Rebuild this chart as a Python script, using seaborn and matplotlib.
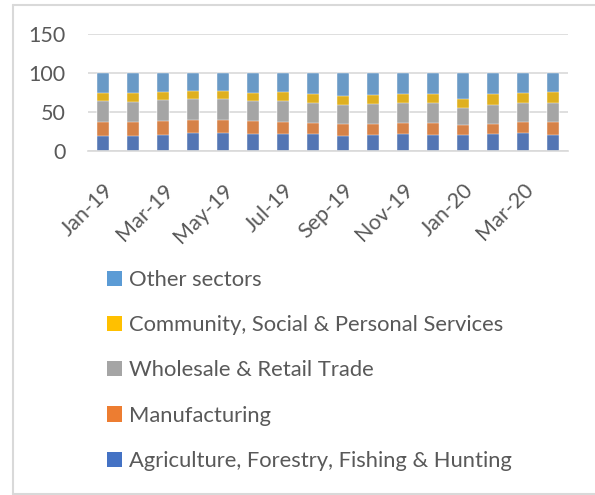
import numpy as np
import pandas as pd
import matplotlib
matplotlib.use("Agg")
import matplotlib.pyplot as plt
from matplotlib.lines import Line2D
from matplotlib.patches import Patch
import seaborn as sns

sns.set_style("white")
plt.rcParams['font.family'] = ['Lato', 'DejaVu Sans']

months = ["Jan-19", "Feb-19", "Mar-19", "Apr-19", "May-19", "Jun-19", "Jul-19", "Aug-19",
          "Sep-19", "Oct-19", "Nov-19", "Dec-19", "Jan-20", "Feb-20", "Mar-20", "Apr-20"]

agriculture = [19, 19, 20, 22, 22.5, 21.5, 21.5, 21, 19, 20, 21.5, 20, 19.5, 21.5, 22, 19.5]
manufacturing = [18, 18, 18, 17, 16.5, 16.5, 15.5, 14.5, 15.5, 14.5, 14, 15.5, 13, 13, 14, 16.5]
wholesale = [26.5, 25.5, 26.5, 26.5, 26.5, 25.5, 26, 25.5, 24, 25.5, 25, 25, 22, 24, 24.5, 24.5]
community = [10.5, 11.5, 11, 10.5, 10.5, 10, 12, 11.5, 11.5, 11.5, 12.5, 12, 11.5, 13.5, 13, 14.5]
other = [26, 26, 24.5, 24, 24, 26.5, 25, 27.5, 30, 28.5, 27, 27.5, 34, 28, 26.5, 25]

sectors = ["Agriculture, Forestry, Fishing & Hunting", "Manufacturing",
           "Wholesale & Retail Trade", "Community, Social & Personal Services",
           "Other sectors"]
colors = ["#4472C4", "#ED7D31", "#A5A5A5", "#FFC000", "#5B9BD5"]

df = pd.DataFrame({"month": months, sectors[0]: agriculture, sectors[1]: manufacturing,
                   sectors[2]: wholesale, sectors[3]: community, sectors[4]: other})

# cumulative totals, drawn from the tallest down so each layer sits on top
cum = df[sectors].cumsum(axis=1)

text_color = "#595959"
grid_color = "#D9D9D9"

fig = plt.figure(figsize=(5.95, 4.95), dpi=100)
ax = fig.add_axes([88 / 595, 1 - 150.5 / 495, 480 / 595, 117 / 495])

for sector, color in zip(sectors[::-1], colors[::-1]):
    sns.barplot(x=df["month"], y=cum[sector], color=color, width=0.4,
                edgecolor="white", linewidth=0.3, ax=ax, zorder=3)

ax.set_ylim(0, 150)
ax.set_xlim(-0.5, len(months) - 0.5)
ax.set_yticks([0, 50, 100, 150])
ax.yaxis.grid(True, color=grid_color, linewidth=1.2, zorder=0)
ax.set_xlabel("")
ax.set_ylabel("")
for s in ["left", "right", "top"]:
    ax.spines[s].set_visible(False)
ax.spines["bottom"].set_color(grid_color)
ax.spines["bottom"].set_linewidth(1.2)
ax.spines["bottom"].set_zorder(4)

# tick marks between category pairs, labels on every other month
ax.set_xticks(np.arange(-0.5, len(months), 2))
ax.set_xticklabels([])
ax.tick_params(axis="x", which="major", length=8, color=grid_color, width=1.2)
ax.set_xticks(np.arange(0, len(months), 2), minor=True)
ax.set_xticklabels(months[::2], minor=True, rotation=45, ha="right",
                   rotation_mode="anchor", fontsize=15.5, color=text_color)
ax.tick_params(axis="x", which="minor", length=0, pad=21)
ax.tick_params(axis="y", length=0, pad=16, labelsize=15.5, labelcolor=text_color)

handles = [Patch(facecolor=c, edgecolor="none") for c in colors[::-1]]
fig.legend(handles, sectors[::-1], loc="upper left", bbox_to_anchor=(107 / 595, 1 - 270 / 495),
           frameon=False, fontsize=15.8, labelcolor=text_color, handlelength=0.7,
           handleheight=0.7, handletextpad=0.3, labelspacing=1.15, borderpad=0,
           borderaxespad=0)

# light frame around the chart area
fig.add_artist(Line2D([13 / 595, 13 / 595], [1 - 494 / 495, 1 - 4.5 / 495],
                      transform=fig.transFigure, color=grid_color, linewidth=1.5))
fig.add_artist(Line2D([13 / 595, 1], [1 - 4.5 / 495, 1 - 4.5 / 495],
                      transform=fig.transFigure, color=grid_color, linewidth=1.5))
fig.add_artist(Line2D([13 / 595, 1], [1 - 494 / 495, 1 - 494 / 495],
                      transform=fig.transFigure, color=grid_color, linewidth=1.5))

fig.savefig("out.png", dpi=100)
